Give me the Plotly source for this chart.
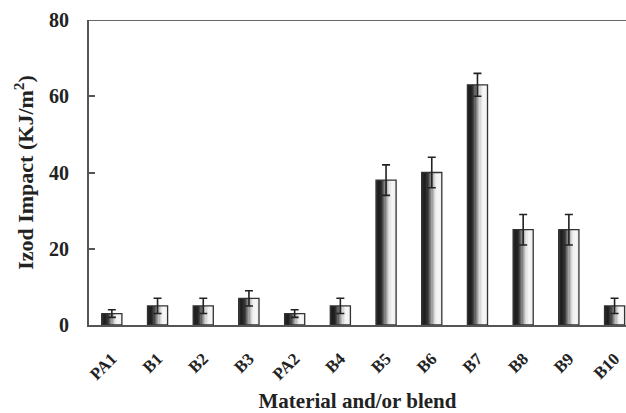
import plotly.graph_objects as go

# Izod impact strength of the neat polymers and blends
materials = ["PA1", "B1", "B2", "B3", "PA2", "B4", "B5", "B6", "B7", "B8", "B9", "B10"]
impact = [3, 5, 5, 7, 3, 5, 38, 40, 63, 25, 25, 5]
impact_err = [1, 2, 2, 2, 1, 2, 4, 4, 3, 4, 4, 2]
y_ticks = [0, 20, 40, 60, 80]

FONT = "Liberation Serif"
INK = "#222"
BAR_W = 0.44

# Horizontal shading across each bar: dark on the left, fading to white
shades = [55, 35, 30, 35, 48, 70, 100, 130, 160, 190, 215, 232, 242, 246, 244, 240]

fig = go.Figure()
n = len(shades)
for k, g in enumerate(shades):
    fig.add_trace(go.Bar(
        x=materials, y=impact,
        width=BAR_W / n + 0.002,
        offset=-BAR_W / 2 + k * BAR_W / n,
        marker=dict(color=f"rgb({g},{g},{g})", line=dict(width=0)),
        showlegend=False, hoverinfo="skip",
    ))

# Outline and error bars
fig.add_trace(go.Bar(
    x=materials, y=impact,
    width=BAR_W, offset=-BAR_W / 2,
    marker=dict(color="rgba(0,0,0,0)", line=dict(color="#333", width=1.3)),
    error_y=dict(type="data", array=impact_err, color=INK, thickness=1.6, width=4),
    showlegend=False,
))

# Frame line along the top of the plot area
fig.add_shape(type="line", xref="paper", yref="y", x0=0, x1=1, y0=80, y1=80,
              line=dict(color="#666", width=2))

fig.update_layout(
    barmode="overlay",
    width=626, height=413,
    margin=dict(l=89, r=0, t=20, b=88),
    plot_bgcolor="white", paper_bgcolor="white",
    font=dict(family=FONT, color=INK),
    xaxis=dict(
        range=[-0.5, 11.25],
        showline=True, linecolor="#555", linewidth=2,
        ticks="", tickangle=-45, ticklabelstandoff=15,
        tickfont=dict(family=FONT, size=17, color=INK, weight="bold"),
        title=dict(text="<b>Material and/or blend</b>",
                   font=dict(family=FONT, size=21, color=INK), standoff=11),
    ),
    yaxis=dict(
        range=[0, 80], tickvals=y_ticks,
        showline=True, linecolor="#555", linewidth=2,
        ticks="inside", ticklen=6, tickcolor="#555", tickwidth=1.5,
        showgrid=False, zeroline=False, ticklabelstandoff=14,
        tickfont=dict(family=FONT, size=20, color=INK, weight="bold"),
        title=dict(text="<b>Izod Impact (KJ/m<sup>2</sup>)</b>",
                   font=dict(family=FONT, size=22, color=INK), standoff=9),
    ),
)

fig.write_html("out.html")
